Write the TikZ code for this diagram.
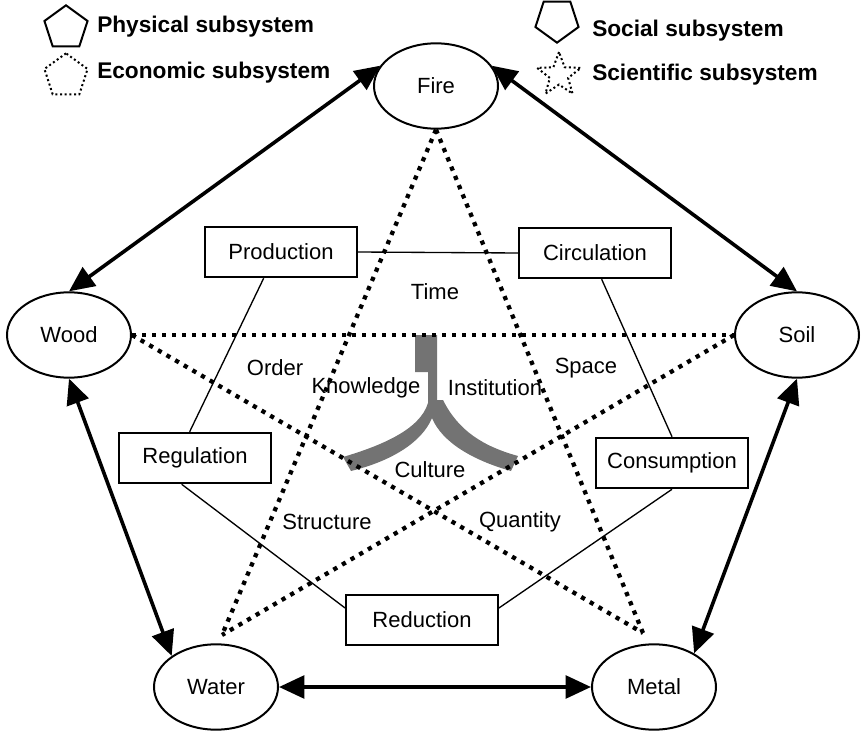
\documentclass[tikz,border=0pt]{standalone}
\usepackage{fontspec}
\setmainfont{Liberation Sans}
\usetikzlibrary{shapes.geometric,arrows.meta}

\begin{document}
\begin{tikzpicture}[x=0.75pt,y=-0.75pt,
  elem/.style={draw,ellipse,line width=1.5pt,inner sep=0pt,
    minimum width=93pt,minimum height=64pt,font=\fontsize{16.5}{19}\selectfont},
  proc/.style={draw,rectangle,line width=1.4pt,inner sep=0pt,
    minimum width=114pt,minimum height=38pt,font=\fontsize{16.5}{19}\selectfont},
  lab/.style={inner sep=0pt,font=\fontsize{16.5}{19}\selectfont},
  legtxt/.style={anchor=west,inner sep=0pt,font=\bfseries\fontsize{17}{20}\selectfont},
  leg/.style={regular polygon,regular polygon sides=5,inner sep=0pt,minimum size=34pt,line width=1.5pt},
  freccia/.style={line width=2.7pt,{Triangle[length=19pt,width=17pt]}-{Triangle[length=19pt,width=17pt]}},
  stella/.style={line width=3.2pt,dash pattern=on 3.2pt off 4.3pt},
  lato/.style={line width=1pt}]
  \useasboundingbox (0,0) rectangle (861,731);

  % Legenda
  \node[leg,draw] (fisico) at (66,28) {};
  \node[leg,draw,dotted] (economico) at (66,76) {};
  \node[leg,draw,shape border rotate=180] (sociale) at (557,20) {};
  \node[star,star points=5,star point ratio=2.4,draw,dotted,inner sep=0pt,
    minimum size=34.5pt,line width=1.5pt] (scientifico) at (559,75) {};
  \node[legtxt] (tfisico) at (97,27) {Physical subsystem};
  \node[legtxt] (teconomico) at (97,73) {Economic subsystem};
  \node[legtxt] (tsociale) at (592,31) {Social subsystem};
  \node[legtxt] (tscientifico) at (592,75) {Scientific subsystem};

  % Elementi
  \node[elem] (fire) at (436,86) {Fire};
  \node[elem] (wood) at (69,335) {Wood};
  \node[elem] (soil) at (797,335) {Soil};
  \node[elem] (water) at (216,687) {Water};
  \node[elem] (metal) at (654,687) {Metal};
  \coordinate (wtop) at (222,635);
  \coordinate (mtop) at (643,633);

  % Processi
  \node[proc] (prod) at (281,252) {Production};
  \node[proc] (circ) at (595,253) {Circulation};
  \node[proc] (reg) at (195,458) {Regulation};
  \node[proc] (cons) at (672,463) {Consumption};
  \node[proc] (red) at (422,620) {Reduction};

  % Carattere al centro
  \fill[black!55] (415,335) -- (437,335) -- (437,400) -- (443,400)
    .. controls (458,430) and (482,446) .. (518,456) -- (511,471)
    .. controls (472,460) and (442,442) .. (432,418)
    .. controls (422,442) and (392,461) .. (351,471) -- (343,457)
    .. controls (380,446) and (420,430) .. (428,403) -- (428,372) -- (415,372) -- cycle;

  % Etichette
  \node[lab] (time) at (435,292) {Time};
  \node[lab] (order) at (275,368) {Order};
  \node[lab] (space) at (586,368) {Space};
  \node[lab] (know) at (366,388) {Knowledge};
  \node[lab] (inst) at (495,388) {Institution};
  \node[lab] (cult) at (430,470) {Culture};
  \node[lab] (struct) at (327,522) {Structure};
  \node[lab] (quant) at (520,522) {Quantity};

  % Lati del pentagono dei processi
  \draw[lato] (prod.east) -- (circ.west);
  \draw[lato] ([xshift=-13pt]prod.south) -- ([xshift=-4pt]reg.north);
  \draw[lato] ([xshift=-10pt]reg.south) -- ([yshift=9pt]red.west);
  \draw[lato] ([yshift=9pt]red.east) -- (cons.south);
  \draw[lato] ([xshift=5pt]circ.south) -- (cons.north);

  % Stella
  \draw[stella] (fire.south) -- (wtop);
  \draw[stella] (fire.south) -- (mtop);
  \draw[stella] (wood.east) -- (soil.west);
  \draw[stella] (wood.east) -- (mtop);
  \draw[stella] (soil.west) -- (wtop);

  % Frecce
  \draw[freccia] (fire.160) -- (wood.north);
  \draw[freccia] (fire.20) -- (soil.north);
  \draw[freccia] (wood.south) -- (water.145);
  \draw[freccia] (soil.south) -- (metal.40);
  \draw[freccia] (water.east) -- (metal.west);
\end{tikzpicture}
\end{document}
